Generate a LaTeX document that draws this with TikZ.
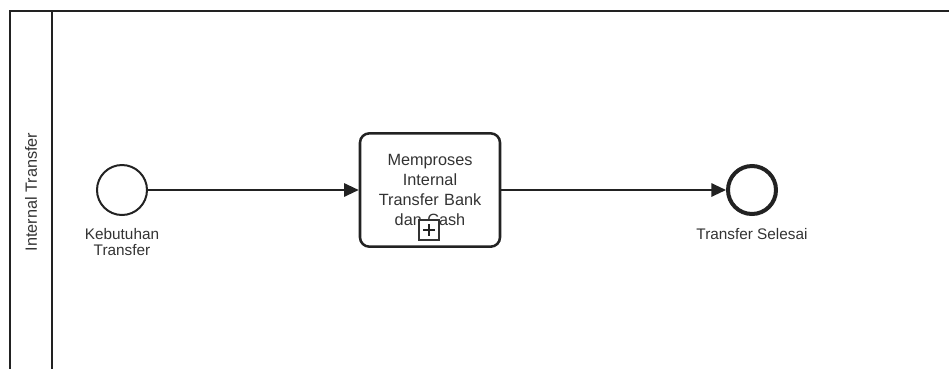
\documentclass[tikz,border=0pt]{standalone}
\usepackage{fontspec}
\setmainfont{Liberation Sans}
\usepackage{tikz}
\usetikzlibrary{arrows.meta, positioning, calc}
\definecolor{bpmnline}{RGB}{34,34,34}
\definecolor{bpmntext}{RGB}{51,51,51}
\tikzset{
  poolline/.style={line width=1.9pt, color=bpmnline},
  startevent/.style={circle, draw=bpmnline, fill=white, line width=1.5pt,
    minimum size=37.5pt, inner sep=0pt},
  endevent/.style={circle, draw=bpmnline, fill=white, line width=3pt,
    minimum size=36pt, inner sep=0pt},
  task/.style={rectangle, draw=bpmnline, fill=white, line width=1.9pt,
    rounded corners=7pt, minimum width=105pt, minimum height=85pt,
    text width=95pt, align=center, text=bpmntext,
    font=\fontsize{12.2}{15}\selectfont},
  marker/.style={rectangle, draw=bpmntext, fill=white, line width=0.8pt,
    minimum size=15pt, inner sep=0pt},
  evlabel/.style={align=center, text=bpmntext, inner sep=0pt,
    font=\fontsize{11.5}{12}\selectfont},
  flow/.style={-{Triangle[length=11pt, width=10pt]}, line width=1.5pt, color=bpmnline}
}

\begin{document}
\begin{tikzpicture}[x=0.75pt, y=-0.75pt]
  \useasboundingbox (0,0) rectangle (949,369);

  % Pool and lane
  \draw[poolline] (949,11) -- (10,11) -- (10,369);
  \draw[poolline] (52,11) -- (52,369);
  \node[rotate=90, text=bpmntext, font=\fontsize{12.2}{13}\selectfont] (lanename) at (31,192) {Internal Transfer};

  % Start event
  \node[startevent] (start) at (122,190) {};
  \node[evlabel, below=9pt of start] (startlbl) {Kebutuhan\\Transfer};

  % Sub-process
  \node[task] (proses) at (430,190) {Memproses\\Internal\\Transfer Bank\\dan Cash};
  \node[marker] (plus) at (429,230) {};
  \draw[line width=2pt, color=bpmnline] ($(plus.center)+(-6,0)$) -- ($(plus.center)+(6,0)$);
  \draw[line width=2pt, color=bpmnline] ($(plus.center)+(0,-6)$) -- ($(plus.center)+(0,6)$);

  % End event
  \node[endevent] (end) at (752,190) {};
  \node[evlabel, below=9pt of end] (endlbl) {Transfer Selesai};

  % Sequence flows
  \draw[flow] (start) -- (proses);
  \draw[flow] (proses) -- (end);
\end{tikzpicture}
\end{document}
